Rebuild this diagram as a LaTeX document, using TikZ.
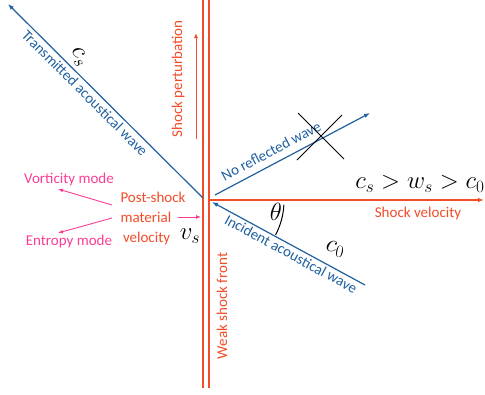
\documentclass[tikz,border=0pt]{standalone}
\usepackage{fontspec}
\setmainfont{Carlito}
\usepackage{amsmath}
\usepackage{tikz}
\usetikzlibrary{arrows.meta}
\usepackage{xcolor}
\definecolor{shockred}{RGB}{242,76,40}
\definecolor{waveblue}{RGB}{32,96,160}
\definecolor{modepink}{RGB}{250,62,150}

\begin{document}
\begin{tikzpicture}[x=1pt, y=-1pt, font=\fontsize{15}{20}\selectfont,
	shock/.style={shockred, line width=1.3pt},
	wave/.style={waveblue, line width=1.2pt, -{Latex[length=6pt,width=4.5pt]}},
	mode/.style={modepink, line width=0.9pt, -{Latex[length=5pt,width=4pt]}},
	bigmath/.style={font=\fontsize{24}{28}\selectfont, inner sep=0pt}]
\useasboundingbox (0,0) rectangle (485,394);

% shock front
\foreach \x in {203,209}
	\draw [shock] (\x,0) -- (\x,388);
\coordinate (front) at (209,200);
\coordinate (velend) at (484,200);
\draw [shock, -{Latex[length=6pt,width=4.5pt]}] (front) -- (velend);
\coordinate (pertlow) at (196,139);
\coordinate (perttop) at (196,33);
\draw [shockred, line width=1pt, -{Latex[length=5pt,width=4pt]}] (pertlow) -- (perttop);

\node [shockred, rotate=90, inner sep=1pt] (pert) at (178,79) {Shock perturbation};
\node [shockred, rotate=90, inner sep=1pt] (weak) at (222,306) {Weak shock front};
\node [shockred] (shockvel) at (418,213) {Shock velocity};

% acoustical waves
\coordinate (transA) at (203,198);
\coordinate (transB) at (8,4);
\coordinate (reflA) at (215,195);
\coordinate (reflB) at (370,113);
\coordinate (incA) at (365,285);
\coordinate (incB) at (212,202);
\draw [wave] (transA) -- (transB);
\draw [wave] (reflA) -- (reflB);
\draw [wave] (incA) -- (incB);

\node [waveblue, rotate=-45, inner sep=1pt] (transmitted) at (85,93) {Transmitted acoustical wave};
\node [waveblue, rotate=28, inner sep=1pt] (reflected) at (271,151) {No reflected wave};
\node [waveblue, rotate=-28.5, inner sep=1pt] (incident) at (291,254) {Incident acoustical wave};

% the cross
\draw [line width=0.9pt] (298,113) -- (344,159);
\draw [line width=0.9pt] (297,160) -- (342,115);

% angle
\draw [line width=1pt] (212,201) ++(3:72) arc [start angle=3, end angle=28, radius=72];
\node [bigmath, font=\fontsize{28}{32}\selectfont] (theta) at (276,212) {$\theta$};

% speeds
\node [bigmath, rotate=-60] (cs) at (79,57) {$c_s$};
\node [bigmath, rotate=-12] (czero) at (335,249) {$c_0$};
\node [bigmath] (vs) at (190,236) {$v_s$};
\node [bigmath] (ineq) at (420,184) {$c_s > w_s > c_0$};

% post-shock modes
\node [shockred, align=left, anchor=west] (postshock) at (117,218) {Post-shock\\material\\\,velocity};
\foreach \name/\y/\txt in {vort/179/Vorticity mode, entr/241/Entropy mode}
	\node [modepink] (\name) at (69,\y) {\txt};
\coordinate (vortA) at (112,205);
\coordinate (vortB) at (58,189);
\coordinate (entrA) at (112,218);
\coordinate (entrB) at (58,233);
\coordinate (velA) at (178,217);
\coordinate (velB) at (201,217);
\draw [mode] (vortA) -- (vortB);
\draw [mode] (entrA) -- (entrB);
\draw [mode] (velA) -- (velB);

\end{tikzpicture}
\end{document}
